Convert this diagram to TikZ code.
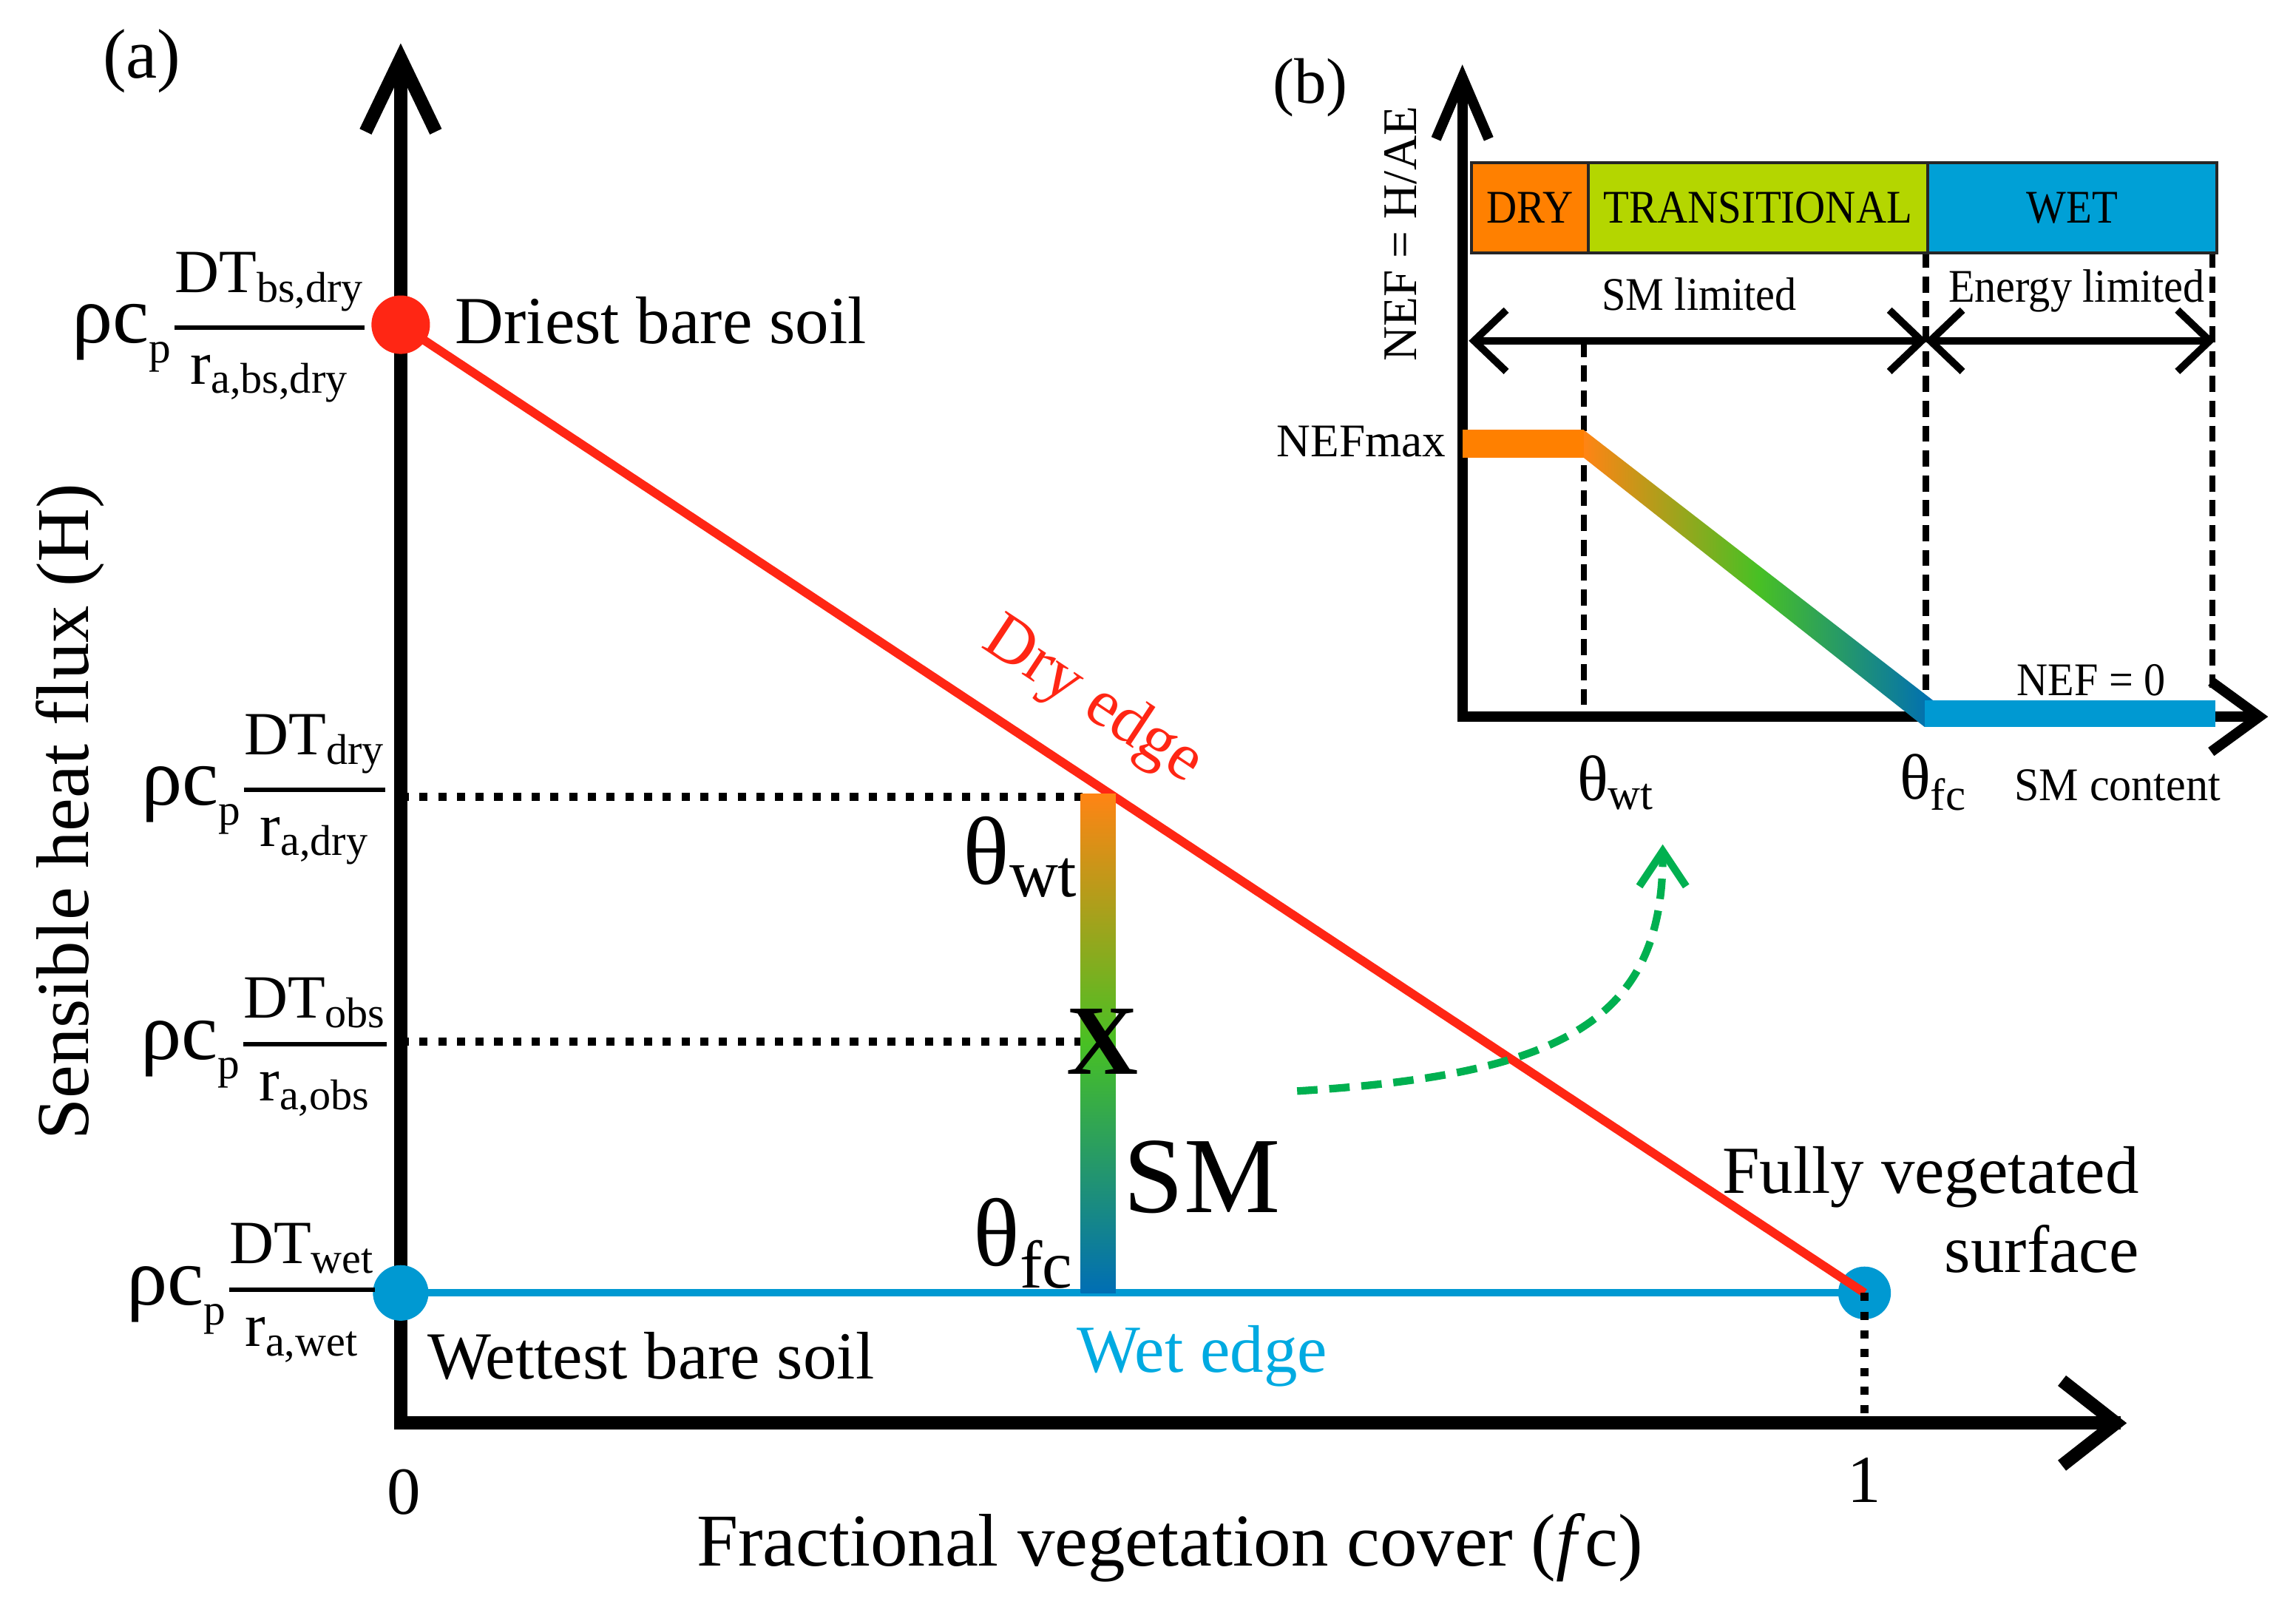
\documentclass[tikz,border=0pt]{standalone}
\usepackage{fontspec}
\setmainfont{Liberation Serif}
\usepackage{amsmath}
\usepackage{graphicx}
\definecolor{dryred}{RGB}{255,38,20}
\definecolor{wetblue}{RGB}{0,153,210}
\definecolor{wettext}{RGB}{0,170,225}
\definecolor{smorange}{RGB}{255,132,20}
\definecolor{smgreen}{RGB}{72,192,36}
\definecolor{smblue}{RGB}{0,110,180}
\definecolor{bandorange}{RGB}{255,128,0}
\definecolor{bandgreen}{RGB}{180,214,0}
\definecolor{bandblue}{RGB}{0,160,214}
\definecolor{arrgreen}{RGB}{0,176,80}
\newcommand{\rholab}[2]{{\fontsize{28}{30}\selectfont ρc}\raisebox{-0.7ex}{\fontsize{15}{16}\selectfont p}$\genfrac{}{}{1.6pt}{0}{\text{\fontsize{21}{22}\selectfont DT\textsubscript{#1}}}{\text{\fontsize{21}{22}\selectfont r\textsubscript{#2}}}$}
\begin{document}
\begin{tikzpicture}[x=0.5pt,y=-0.5pt,
  axisline/.style={line width=4.5pt,line join=miter,line cap=butt},
  insetaxis/.style={line width=3.5pt,line join=miter,line cap=butt},
  darrow/.style={line width=2.5pt,line join=miter,line cap=butt},
  dotline/.style={line width=2.8pt,dash pattern=on 2.8pt off 3.6pt},
  dashline/.style={line width=2.1pt,dash pattern=on 5.5pt off 3pt},
  lbl/.style={font=\fontsize{23}{27}\selectfont,inner sep=0pt},
  axlbl/.style={font=\fontsize{25.5}{30}\selectfont,inner sep=0pt},
  ylbl/.style={font=\fontsize{21}{22}\selectfont,inner sep=0pt,anchor=east},
  small/.style={font=\fontsize{16}{19}\selectfont,inner sep=0pt},
  dot/.style={circle,inner sep=0pt,minimum size=#1}
]
\useasboundingbox (0,0) rectangle (1568,1110);

% ---------- panel (a) ----------
\coordinate (origin) at (274,973);
\coordinate (pdry) at (274,222);
\coordinate (pwet) at (274,884);
\coordinate (pveg) at (1275,884);
\coordinate (pvx) at (1275,973);
\coordinate (ldry) at (274,545);
\coordinate (lobs) at (274,712);
\coordinate (rdry) at (740,545);
\coordinate (robs) at (740,712);

% axes
\draw[axisline] (274,45) -- (origin) -- (1450,973);
\draw[axisline] (250,90) -- (274,40) -- (298,90);
\draw[axisline] (1410,944) -- (1447,973) -- (1410,1002);

% dots
\node[dot=20pt,fill=dryred] (ndry) at (pdry) {};
\node[dot=19pt,fill=wetblue] (nwet) at (pwet) {};
\node[dot=18pt,fill=wetblue] (nveg) at (pveg) {};

% edges
\draw[wetblue,line width=2.6pt] (nwet.center) -- (nveg.center);
\draw[dryred,line width=3pt] (ndry.center) -- (nveg.center);
\draw[dotline] (nveg.center) -- (pvx);
\draw[dotline] (ldry) -- (rdry);
\draw[dotline] (lobs) -- (robs);

% SM bar
\shade[top color=smorange,bottom color=smblue,middle color=smgreen] (739,543) rectangle (763,884);

% texts panel a
\node[font=\fontsize{24}{28}\selectfont,inner sep=0pt] (la) at (97,42) {(a)};
\node[lbl,anchor=west] (tdriest) at (311,219) {Driest bare soil};
\node[lbl,anchor=west] (twettest) at (292,927) {Wettest bare soil};
\node[lbl,text=wettext] (twetedge) at (822,927) {Wet edge};
\node[lbl,align=right,anchor=east] (tfully) at (1463,827) {Fully vegetated\\surface};
\node[lbl,text=dryred,rotate=-33.5] (tdryedge) at (747,480) {Dry edge};
\node[lbl] (tzero) at (276,1020) {0};
\node[lbl] (tone) at (1275,1012) {1};
\node[axlbl] (txlab) at (800,1058) {Fractional vegetation cover (\textit{f}c)};
\node[axlbl,rotate=90] (tylab) at (48,555) {Sensible heat flux (H)};
\node[font=\fontsize{33}{36}\selectfont,inner sep=0pt] (tthwt) at (698,586) {θ\textsubscript{wt}};
\node[font=\fontsize{33}{36}\selectfont,inner sep=0pt] (tthfc) at (700,850) {θ\textsubscript{fc}};
\node[font=\fontsize{34}{36}\selectfont\bfseries,inner sep=0pt] (tX) at (754,712) {X};
\node[font=\fontsize{37}{40}\selectfont,inner sep=0pt] (tSM) at (822,805) {SM};

% y-axis labels
\node[ylbl] (ybs) at (252,224) {\rholab{bs,dry}{a,bs,dry}};
\node[ylbl] (ydry) at (266,540) {\rholab{dry}{a,dry}};
\node[ylbl] (yobs) at (267,716) {\rholab{obs}{a,obs}};
\node[ylbl] (ywet) at (259,884) {\rholab{wet}{a,wet}};

% ---------- panel (b) ----------
\coordinate (borigin) at (1000,490);
\coordinate (bwt) at (1083,490);
\coordinate (bfc) at (1317,490);
\coordinate (bend) at (1513,470);

% dashed verticals
\draw[dashline] (1083,233) -- (bwt);
\draw[dashline] (1317,172) -- (bfc);
\draw[dashline] (1513,172) -- (bend);

% axes
\draw[insetaxis] (1000,58) -- (borigin) -- (1540,490);
\draw[insetaxis] (982,95) -- (1000,53) -- (1018,95);
\draw[insetaxis] (1512,466) -- (1545,490) -- (1512,514);

% regime band
\node[draw=black!85,line width=1pt,fill=bandorange,minimum width=40pt,minimum height=31pt,inner sep=0pt,anchor=north west] (bdry) at (1005,110) {};
\node[draw=black!85,line width=1pt,fill=bandgreen,minimum width=116pt,minimum height=31pt,inner sep=0pt,anchor=north west] (btrans) at (1085,110) {};
\node[draw=black!85,line width=1pt,fill=bandblue,minimum width=99pt,minimum height=31pt,inner sep=0pt,anchor=north west] (bwet) at (1317,110) {};
\node[small] (tdry) at (bdry.center) {\scalebox{0.9}[1]{DRY}};
\node[small] (ttrans) at (btrans.center) {\scalebox{0.9}[1]{TRANSITIONAL}};
\node[small] (twet) at (bwet.center) {\scalebox{0.9}[1]{WET}};

% double arrows
\coordinate (aL) at (1008,233);
\coordinate (aM) at (1314,233);
\coordinate (aM2) at (1320,233);
\coordinate (aR) at (1511,233);
\draw[darrow] (aL) -- (aM);
\draw[darrow] (aM2) -- (aR);
\draw[darrow] (1030,212) -- (aL) -- (1030,254);
\draw[darrow] (1292,212) -- (aM) -- (1292,254);
\draw[darrow] (1342,212) -- (aM2) -- (1342,254);
\draw[darrow] (1489,212) -- (aR) -- (1489,254);
\node[small] (tsml) at (1162,201) {\scalebox{0.92}[1]{SM limited}};
\node[small] (tenl) at (1420,199) {\scalebox{0.92}[1]{Energy limited}};

% NEF curve
\fill[bandorange] (1000,294) rectangle (1083,313);
\shade[left color=smorange,right color=smblue,middle color=smgreen] (1083,294) -- (1322,479) -- (1316,497) -- (1083,313) -- cycle;
\fill[wetblue] (1316,479) rectangle (1515,497);

\node[small,anchor=east] (tnefmax) at (989,302) {NEFmax};
\node[small] (tnef0) at (1430,465) {\scalebox{0.92}[1]{NEF = 0}};
\node[font=\fontsize{22}{26}\selectfont,inner sep=0pt] (tbwt) at (1105,535) {θ\textsubscript{wt}};
\node[font=\fontsize{22}{26}\selectfont,inner sep=0pt] (tbfc) at (1322,535) {θ\textsubscript{fc}};
\node[small] (tsmc) at (1448,537) {\scalebox{0.95}[1]{SM content}};
\node[font=\fontsize{22}{26}\selectfont,inner sep=0pt] (lb) at (896,60) {(b)};
\node[font=\fontsize{16.5}{19}\selectfont,inner sep=0pt,rotate=90] (tnefy) at (958,160) {NEF = H/AE};

% green curved arrow
\coordinate (gstart) at (887,746);
\coordinate (gend) at (1137,585);
\draw[arrgreen,line width=2.6pt,dash pattern=on 7pt off 4pt] (gstart) .. controls (1065,735) and (1137,700) .. (gend);
\draw[arrgreen,line width=2.6pt,line join=miter] (1121,606) -- (1137,582) -- (1153,606);
\end{tikzpicture}
\end{document}
